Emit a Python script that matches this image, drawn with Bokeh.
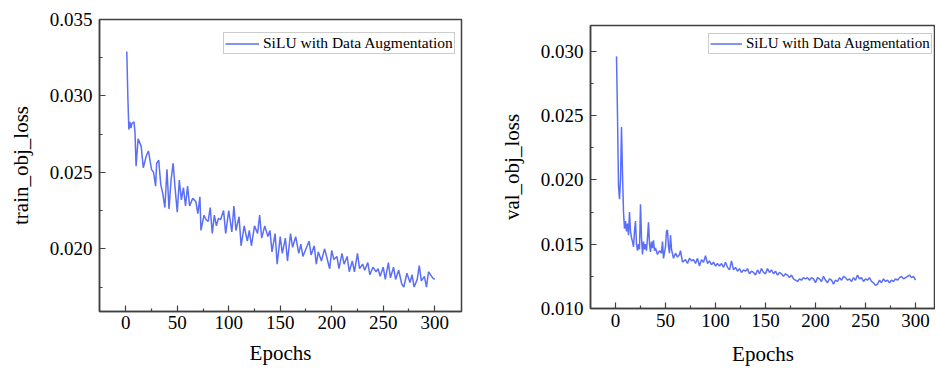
from bokeh.plotting import figure
from bokeh.layouts import row, column
from bokeh.models import (FixedTicker, PrintfTickFormatter, Range1d, Legend, LegendItem)
from bokeh.embed import file_html
from bokeh.resources import INLINE

# ---------------- data ----------------
train_epochs = [1, 2, 3, 4, 5, 6, 8, 9, 10, 12, 15, 17, 20, 22, 25, 27, 29, 30, 32, 34, 36, 38, 40, 42,
                44, 46, 48, 50, 52, 54, 56, 58, 60, 62, 65, 68, 70, 72, 73, 76, 78, 80, 82, 84, 86,
                88, 90, 92, 95, 97, 100, 103, 105, 107, 110, 112, 115, 118, 120, 122, 125, 128, 130,
                132, 135, 138, 140, 142, 145, 147, 150, 152, 155, 157, 160, 162, 165, 168, 170, 172,
                175, 178, 180, 183, 185, 187, 190, 193, 195, 198, 200, 202, 205, 207, 210, 212, 215,
                217, 220, 222, 225, 227, 230, 232, 235, 237, 240, 243, 245, 247, 250, 252, 255, 257,
                260, 262, 265, 268, 270, 273, 276, 278, 280, 283, 285, 287, 290, 292, 294, 296, 298, 300]
train_loss = [0.0329, 0.0300, 0.0278, 0.0283, 0.0279, 0.0282, 0.0283, 0.0276, 0.0254, 0.0272, 0.0267,
              0.0253, 0.0261, 0.0264, 0.0252, 0.0250, 0.0241, 0.0256, 0.0258, 0.0242, 0.0236, 0.0227,
              0.0252, 0.0226, 0.0245, 0.0256, 0.0239, 0.0224, 0.0245, 0.0232, 0.0240, 0.0228, 0.0241,
              0.0228, 0.0233, 0.0231, 0.0223, 0.0234, 0.0212, 0.0222, 0.0219, 0.0218, 0.0227, 0.0210,
              0.0222, 0.0215, 0.0220, 0.0219, 0.0225, 0.0210, 0.0225, 0.0211, 0.0228, 0.0212, 0.0221,
              0.0202, 0.0215, 0.0205, 0.0212, 0.0202, 0.0215, 0.0210, 0.0222, 0.0207, 0.0215, 0.0208,
              0.0212, 0.0198, 0.0210, 0.0190, 0.0208, 0.0197, 0.0207, 0.0192, 0.0210, 0.0201, 0.0208,
              0.0197, 0.0203, 0.0195, 0.0200, 0.0205, 0.0196, 0.0202, 0.0190, 0.0198, 0.0192, 0.0200,
              0.0195, 0.0187, 0.0199, 0.0193, 0.0195, 0.0187, 0.0197, 0.0190, 0.0195, 0.0185, 0.0192,
              0.0185, 0.0197, 0.0187, 0.0190, 0.0186, 0.0191, 0.0183, 0.0188, 0.0185, 0.0187, 0.0182,
              0.0188, 0.0180, 0.0191, 0.0181, 0.0188, 0.0180, 0.0186, 0.0177, 0.0175, 0.0184, 0.0178,
              0.0183, 0.0175, 0.0180, 0.0189, 0.0179, 0.0182, 0.0175, 0.0185, 0.0183, 0.0181, 0.0180]

val_epochs = [1, 2, 3, 4, 5, 6, 7, 8, 9, 10, 11, 12, 13, 14, 15, 16, 17, 18, 19, 20, 21, 22, 23, 24,
              25, 26, 27, 28, 29, 30, 31, 32, 33, 34, 35, 36, 37, 38, 39, 40, 42, 44, 46, 47, 48, 50,
              51, 52, 53, 54, 55, 56, 58, 60, 62, 64, 65, 67, 70, 72, 74, 76, 78, 80, 82, 84, 86, 88,
              90, 92, 94, 96, 98, 100, 102, 104, 106, 108, 110, 112, 114, 116, 118, 120, 122, 124,
              126, 128, 130, 132, 134, 136, 138, 140, 142, 144, 146, 148, 150, 152, 154, 156, 158,
              160, 162, 164, 166, 168, 170, 172, 174, 176, 178, 180, 182, 184, 186, 188, 190, 192,
              194, 196, 198, 200, 202, 204, 206, 208, 210, 212, 214, 216, 218, 220, 222, 224, 226,
              228, 230, 232, 234, 236, 238, 240, 242, 244, 246, 248, 250, 252, 254, 256, 258, 260,
              262, 264, 266, 268, 270, 272, 274, 276, 278, 280, 282, 284, 286, 288, 290, 292, 294,
              296, 298, 300]
val_loss = [0.0296, 0.0250, 0.0195, 0.0185, 0.0200, 0.0241, 0.0205, 0.0175, 0.0162, 0.0168, 0.0160,
            0.0166, 0.0157, 0.0175, 0.0160, 0.0155, 0.0152, 0.0148, 0.0160, 0.0168, 0.0150, 0.0145,
            0.0150, 0.0146, 0.0181, 0.0155, 0.0142, 0.0152, 0.0146, 0.0150, 0.0145, 0.0155, 0.0167,
            0.0150, 0.0144, 0.0152, 0.0147, 0.0153, 0.0145, 0.0147, 0.0142, 0.0145, 0.0143, 0.0152,
            0.0139, 0.0148, 0.0160, 0.0161, 0.0148, 0.0143, 0.0157, 0.0146, 0.0139, 0.0143, 0.0140,
            0.0142, 0.0145, 0.0136, 0.0138, 0.0135, 0.0139, 0.0137, 0.0138, 0.0135, 0.0139, 0.0133,
            0.0138, 0.0136, 0.0141, 0.0135, 0.0137, 0.0134, 0.0136, 0.0133, 0.0135, 0.0133, 0.0135,
            0.0132, 0.0136, 0.0132, 0.0130, 0.0137, 0.0130, 0.0132, 0.0129, 0.0131, 0.0128, 0.0130,
            0.0129, 0.0131, 0.0127, 0.0129, 0.0128, 0.0126, 0.0130, 0.0127, 0.0131, 0.0128, 0.0127,
            0.0131, 0.0128, 0.0130, 0.0127, 0.0129, 0.0126, 0.0128, 0.0127, 0.0125, 0.0127, 0.0126,
            0.0124, 0.0126, 0.0123, 0.0122, 0.0121, 0.0123, 0.0122, 0.0124, 0.0123, 0.0124, 0.0122,
            0.0124, 0.0123, 0.0120, 0.0124, 0.0123, 0.0121, 0.0125, 0.0122, 0.0120, 0.0123, 0.0122,
            0.0119, 0.0122, 0.0121, 0.0124, 0.0122, 0.0125, 0.0124, 0.0122, 0.0123, 0.0121, 0.0124,
            0.0122, 0.0126, 0.0123, 0.0124, 0.0121, 0.0123, 0.0122, 0.0124, 0.0121, 0.0120, 0.0118,
            0.0119, 0.0122, 0.0120, 0.0123, 0.0121, 0.0122, 0.0120, 0.0122, 0.0121, 0.0123, 0.0122,
            0.0124, 0.0125, 0.0123, 0.0124, 0.0125, 0.0126, 0.0124, 0.0125, 0.0122]

x_ticks = [0, 50, 100, 150, 200, 250, 300]
x_minor = [25, 75, 125, 175, 225, 275]
train_yticks = [0.020, 0.025, 0.030, 0.035]
train_yminor = [0.0175, 0.0225, 0.0275, 0.0325]
val_yticks = [0.010, 0.015, 0.020, 0.025, 0.030]
val_yminor = [0.0125, 0.0175, 0.0225, 0.0275]
series_label = "SiLU with Data Augmentation"
x_label = "Epochs"

LINE = "#5a6ff5"
FRAME = "#404040"
FONT = "Liberation Serif"
FONT_Q = "'Liberation Serif', serif"


def make(xs, ys, xr, yr, yt, ym, ylabel, w, h, mb, leg_loc, leg_size, leg_glyph,
         tick_standoff, label_standoff):
    p = figure(width=w, height=h, output_backend="svg", toolbar_location=None,
               x_range=Range1d(*xr), y_range=Range1d(*yr))
    p.min_border_left, p.min_border_right, p.min_border_top, p.min_border_bottom = mb
    p.grid.visible = False
    p.outline_line_color = FRAME
    p.outline_line_width = 1.5
    r = p.line(xs, ys, line_color=LINE, line_width=1.5)

    for ax in (p.xaxis[0], p.yaxis[0]):
        ax.axis_line_color = FRAME
        ax.axis_line_width = 1.5
        ax.major_tick_line_color = FRAME
        ax.minor_tick_line_color = FRAME
        ax.major_tick_line_width = 1.2
        ax.minor_tick_line_width = 1.2
        ax.major_tick_out = 0
        ax.major_tick_in = 6
        ax.minor_tick_out = 0
        ax.minor_tick_in = 3
        ax.major_label_text_font = FONT_Q
        ax.major_label_text_font_size = "19px"
        ax.major_label_text_color = "black"
        ax.axis_label_text_font = FONT
        ax.axis_label_text_font_size = "21px"
        ax.axis_label_text_font_style = "normal"
        ax.axis_label_text_color = "black"

    p.xaxis.ticker = FixedTicker(ticks=x_ticks, minor_ticks=x_minor)
    p.yaxis.ticker = FixedTicker(ticks=yt, minor_ticks=ym)
    p.yaxis.formatter = PrintfTickFormatter(format="%.3f")
    p.xaxis.axis_label = x_label
    p.yaxis.axis_label = ylabel
    p.xaxis.major_label_standoff = tick_standoff
    p.xaxis.axis_label_standoff = label_standoff
    p.yaxis.major_label_standoff = 7
    p.yaxis.axis_label_standoff = 14

    leg = Legend(items=[LegendItem(label=series_label, renderers=[r])],
                 location=leg_loc)
    leg.label_text_font = FONT_Q
    leg.label_text_font_size = leg_size
    leg.label_text_color = "black"
    leg.border_line_color = "#999999"
    leg.border_line_width = 1
    leg.padding = 1
    leg.margin = 0
    leg.spacing = 0
    leg.glyph_width = leg_glyph
    leg.glyph_height = 17
    leg.label_height = 17
    leg.label_standoff = 4
    leg.background_fill_alpha = 1
    p.add_layout(leg)
    return p


p1 = make(train_epochs, train_loss, (-25.5, 326), (0.0159, 0.035), train_yticks, train_yminor,
          "train_obj_loss", 477, 368, (99, 16, 19, 57), (124, 257), "15.5px", 34, 4, 9)
p2 = make(val_epochs, val_loss, (-25, 320), (0.010, 0.032), val_yticks, val_yminor,
          "val_obj_loss", 458, 368, (113, 0, 25, 60), (118, 254), "15px", 32, 5, 12)

layout = row(column(p1), column(p2))
open("out.html", "w").write(file_html(layout, INLINE))
